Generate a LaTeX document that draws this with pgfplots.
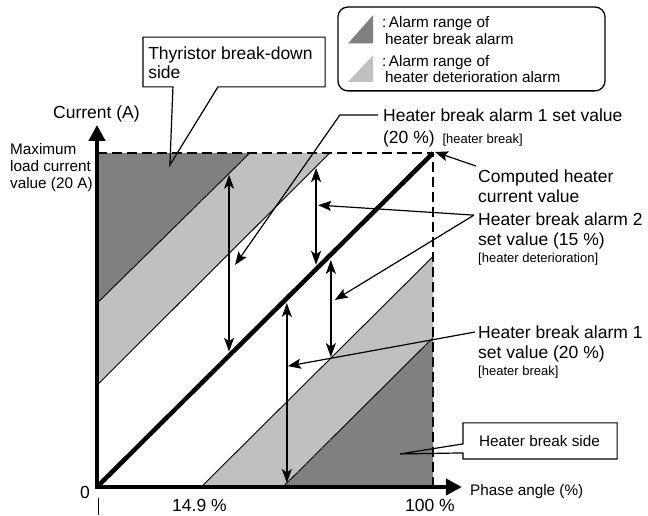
\documentclass[border=0pt]{standalone}
\usepackage{pgfplots}
\pgfplotsset{compat=1.18}
\usetikzlibrary{arrows.meta}
\usepackage{fontspec}
\setmainfont{Liberation Sans}
\definecolor{dgray}{HTML}{808080}
\definecolor{lgray}{HTML}{C0C0C0}
\newcommand\fbig{\fontsize{17.5}{21}\selectfont}
\newcommand\fmed{\fontsize{15.3}{18}\selectfont}
\newcommand\fsml{\fontsize{13}{15}\selectfont}
\tikzset{dbl/.style={black, line width=1.5pt, arrows={Stealth[length=14pt,width=10pt,inset=3.5pt]-Stealth[length=14pt,width=10pt,inset=3.5pt]}},
  ldr/.style={black, line width=1.2pt, line join=miter, -{Stealth[length=13pt,width=10pt,inset=2.5pt]}}}
\begin{document}
\begin{tikzpicture}
\useasboundingbox (0,0) rectangle (648pt,515pt);
\begin{axis}[at={(97pt,28pt)}, anchor=south west, scale only axis,
  width=336pt, height=334pt, xmin=0, xmax=100, ymin=0, ymax=100,
  hide axis, clip=false]
% alarm regions
\addplot[draw=none, fill=dgray] coordinates {(0,55) (0,100) (45.5,100)} -- cycle;
\addplot[draw=none, fill=lgray] coordinates {(0,30.5) (0,55) (45.5,100) (69.3,100)} -- cycle;
\addplot[draw=none, fill=lgray] coordinates {(31,0) (55.3,0) (100,44.7) (100,69)} -- cycle;
\addplot[draw=none, fill=dgray] coordinates {(55.3,0) (100,0) (100,44.7)} -- cycle;
\addplot[black, line width=0.9pt] coordinates {(0,55) (45.5,100)};
\addplot[black, line width=0.9pt] coordinates {(0,30.5) (69.3,100)};
\addplot[black, line width=0.9pt] coordinates {(31,0) (100,69)};
\addplot[black, line width=0.9pt] coordinates {(55.3,0) (100,44.7)};
% dashed limits
\addplot[black, line width=1.5pt, dash pattern=on 10pt off 5pt] coordinates {(0,100) (100,100) (100,0)};
% axes
\addplot[black, line width=4pt, line join=miter,
  arrows={Triangle[length=16pt,width=16pt]-Triangle[length=16pt,width=16pt]}]
  coordinates {(0,108.4) (0,0) (108.6,0)};
% computed heater current
\addplot[black, line width=4.5pt] coordinates {(0,0) (100,100)};
% double arrows
\addplot[dbl] coordinates {(39.3,40.5) (39.3,93.5)};
\addplot[dbl] coordinates {(65.2,66.5) (65.2,95.5)};
\addplot[dbl] coordinates {(56.5,1.2) (56.5,55.1)};
\addplot[dbl] coordinates {(69.6,38.9) (69.6,68.0)};
% leader lines
\addplot[ldr] coordinates {(83.6,111.4) (72.3,111.4) (41.1,66.5)};
\addplot[ldr] coordinates {(112.8,96.1) (100.6,100.3)};
\addplot[ldr] coordinates {(112.2,81.4) (65.8,84.4)};
\addplot[ldr] coordinates {(112.2,81.4) (70.8,56.0)};
\addplot[ldr] coordinates {(112.5,46.4) (56.8,36.2)};
% callout boxes
\draw[black, line width=1.2pt] (13.7,119.8) -- (22.6,119.8) -- (21.7,96.4) -- (36.0,119.8) -- (67.9,119.8) -- (67.9,134.7) -- (13.7,134.7) -- cycle;
\draw[black, line width=1.2pt] (108.9,19.2) -- (108.9,12.9) -- (90.2,9.9) -- (108.9,10.2) -- (108.9,8.4) -- (154.8,8.4) -- (154.8,19.2) -- cycle;
% legend
\draw[black, line width=1.3pt, rounded corners=10pt] (71.7,118.6) rectangle (151.2,143.7);
\addplot[draw=none, fill=dgray] coordinates {(74.7,132.8) (82.2,132.8) (82.2,141.3)} -- cycle;
\addplot[draw=none, fill=lgray] coordinates {(74.7,121.3) (82.2,121.3) (82.2,129.3)} -- cycle;
\node[anchor=base west, inner sep=0] at (84.8,137.7) {\fmed :\,Alarm range of};
\node[anchor=base west, inner sep=0] at (85.7,132.6) {\fmed heater break alarm};
\node[anchor=base west, inner sep=0] at (84.8,126.0) {\fmed :\,Alarm range of};
\node[anchor=base west, inner sep=0] at (85.7,121.0) {\fmed heater deterioration alarm};
% texts
\node[anchor=base west, inner sep=0] at (15.2,128.1) {\fbig Thyristor break-down};
\node[anchor=base west, inner sep=0] at (15.2,122.2) {\fbig side};
\node[anchor=base west, inner sep=0] at (-13.1,110.2) {\fbig Current (A)};
\node[anchor=base west, inner sep=0] at (-25.9,99.7) {\fmed Maximum};
\node[anchor=base west, inner sep=0] at (-25.9,94.6) {\fmed load current};
\node[anchor=base west, inner sep=0] at (-25.9,89.5) {\fmed value (20 A)};
\node[anchor=base west, inner sep=0] at (85.1,109.3) {\fbig Heater break alarm 1 set value};
\node[anchor=base west, inner sep=0] at (85.1,102.7) {\fbig (20 \%)\hspace{3pt} \fsml [heater break]};
\node[anchor=base west, inner sep=0] at (113.4,91.3) {\fbig Computed heater};
\node[anchor=base west, inner sep=0] at (113.4,85.3) {\fbig current value};
\node[anchor=base west, inner sep=0] at (113.4,78.4) {\fbig Heater break alarm 2};
\node[anchor=base west, inner sep=0] at (113.4,72.2) {\fbig set value (15 \%)};
\node[anchor=base west, inner sep=0] at (113.4,67.1) {\fsml [heater deterioration]};
\node[anchor=base west, inner sep=0] at (113.4,44.6) {\fbig Heater break alarm 1};
\node[anchor=base west, inner sep=0] at (113.4,38.6) {\fbig set value (20 \%)};
\node[anchor=base west, inner sep=0] at (113.4,33.5) {\fsml [heater break]};
\node[anchor=base, inner sep=0] at (131.7,12.0) {\fmed Heater break side};
\node[anchor=base west, inner sep=0] at (111.0,-2.4) {\fmed Phase angle (\%)};
\node[anchor=base, inner sep=0] at (-3.6,-3.3) {\fbig 0};
\node[anchor=base, inner sep=0] at (30.5,-7.2) {\fbig 14.9 \%};
\node[anchor=base, inner sep=0] at (99.1,-7.2) {\fbig 100 \%};
\addplot[black, line width=1pt] coordinates {(0.3,-3.3) (0.3,-8.4)};
\end{axis}
\end{tikzpicture}
\end{document}
